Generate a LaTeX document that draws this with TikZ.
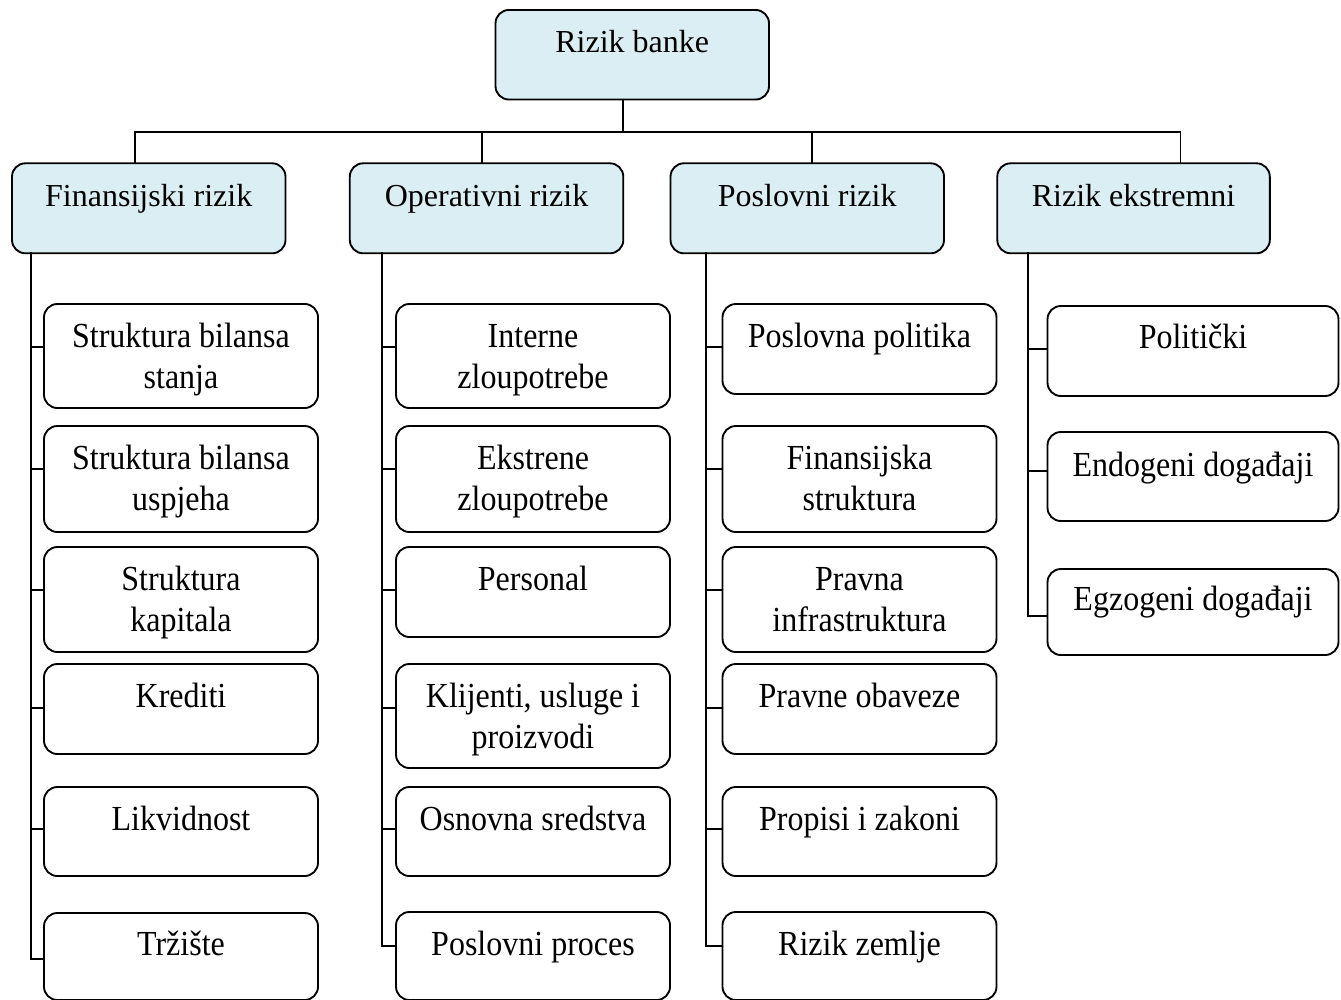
\documentclass[tikz,border=0pt]{standalone}
\usepackage{fontspec}
\usepackage{graphicx}
\setmainfont{Liberation Serif}
\usetikzlibrary{calc}

\definecolor{headfill}{RGB}{218,238,243}

% one drawing unit = one pixel of the 1341 x 999 canvas
\newlength\px
\setlength\px{0.75pt}

% text of a heading box: one line, baseline a fixed distance below the top
\newcommand\headtext[3]{%
  \parbox[c][#2\px][t]{#1\px}{\centering\rule{0pt}{43\px}#3}}
% text of a leaf box: one or two lines, slightly tall letters
\newcommand\leaftext[4][43]{%
  \parbox[c][#3\px][t]{#2\px}{\centering\rule{0pt}{#1\px}%
    \scalebox{1}[1.1]{\begin{tabular}[t]{@{}c@{}}#4\end{tabular}}}}

\tikzset{
  boxbase/.style={draw, line width=1.4pt, rounded corners=10pt,
    inner sep=0pt, outer sep=0pt, anchor=north west},
  head/.style={boxbase, fill=headfill},
  leaf/.style={boxbase, fill=white},
  link/.style={line width=1.4pt, line cap=rect},
}

\begin{document}
\fontsize{24}{28.6}\selectfont
\begin{tikzpicture}[x=0.75pt, y=-0.75pt]
\useasboundingbox (0,0) rectangle (1341,999);

% ---- root and the four risk groups ----
\node[head] (top) at (495.5,10)    {\headtext{273.5}{89.5}{Rizik banke}};
\node[head] (fin) at (12,163.3)    {\headtext{273.5}{90}{Finansijski rizik}};
\node[head] (op)  at (349.8,163.3) {\headtext{273.5}{90}{Operativni rizik}};
\node[head] (pos) at (670.5,163.3) {\headtext{273.5}{90}{Poslovni rizik}};
\node[head] (ext) at (997.3,163.3) {\headtext{272.5}{90}{Rizik ekstremni}};

% ---- Finansijski rizik ----
\node[leaf] (k11) at (44,304) {\leaftext{274}{104}{Struktura bilansa\\stanja}};
\node[leaf] (k12) at (44,426) {\leaftext{274}{106}{Struktura bilansa\\uspjeha}};
\node[leaf] (k13) at (44,547) {\leaftext{274}{105}{Struktura\\kapitala}};
\node[leaf] (k14) at (44,664) {\leaftext{274}{90}{Krediti}};
\node[leaf] (k15) at (44,787) {\leaftext{274}{89}{Likvidnost}};
\node[leaf] (k16) at (44,913) {\leaftext[42]{274}{87}{Tržište}};

% ---- Operativni rizik ----
\node[leaf] (k21) at (396,304) {\leaftext{274}{104}{Interne\\zloupotrebe}};
\node[leaf] (k22) at (396,426) {\leaftext{274}{106}{Ekstrene\\zloupotrebe}};
\node[leaf] (k23) at (396,547) {\leaftext{274}{90}{Personal}};
\node[leaf] (k24) at (396,664) {\leaftext{274}{104}{Klijenti, usluge i\\proizvodi}};
\node[leaf] (k25) at (396,787) {\leaftext{274}{89}{Osnovna sredstva}};
\node[leaf] (k26) at (396,912) {\leaftext{274}{88}{Poslovni proces}};

% ---- Poslovni rizik ----
\node[leaf] (k31) at (722.5,304) {\leaftext{274}{90}{Poslovna politika}};
\node[leaf] (k32) at (722.5,426) {\leaftext{274}{106}{Finansijska\\struktura}};
\node[leaf] (k33) at (722.5,547) {\leaftext{274}{105}{Pravna\\infrastruktura}};
\node[leaf] (k34) at (722.5,664) {\leaftext{274}{90}{Pravne obaveze}};
\node[leaf] (k35) at (722.5,787) {\leaftext{274}{89}{Propisi i zakoni}};
\node[leaf] (k36) at (722.5,912) {\leaftext{274}{88}{Rizik zemlje}};

% ---- Rizik ekstremni ----
\node[leaf] (k41) at (1047.5,306) {\leaftext[42]{291}{90}{Politički}};
\node[leaf] (k42) at (1047.5,432) {\leaftext[44]{291}{89}{Endogeni događaji}};
\node[leaf] (k43) at (1047.5,569) {\leaftext[41]{291}{86}{Egzogeni događaji}};

% ---- bus from the root to the groups ----
\coordinate (busL) at (135,132.3);
\coordinate (busR) at (1180.5,132.3);
\coordinate (topdrop) at ([shift={(-9,0)}]top.south);
\coordinate (opdrop)  at ([shift={(-4.5,0)}]op.north);
\coordinate (posdrop) at ([shift={(4.75,0)}]pos.north);
\draw[link] (busL) -- (busR);
\draw[link] (topdrop) -- (topdrop |- busL);
\draw[link] (fin.north -| busL) -- (busL);
\draw[link] (opdrop) -- (opdrop |- busL);
\draw[link] (posdrop) -- (posdrop |- busL);
\draw[link] (ext.north -| busR) -- (busR);

% ---- spines down the left of each group ----
\coordinate (s1) at (31,0);
\coordinate (s2) at (382,0);
\coordinate (s3) at (706,0);
\coordinate (s4) at (1028,0);

\draw[link] (fin.south -| s1) |- (k16.west |- 0,959);
\foreach \k/\y in {k11/347,k12/469,k13/590,k14/708,k15/829}
  \draw[link] (\k.west |- 0,\y) -- (s1 |- 0,\y);

\draw[link] (op.south -| s2) |- (k26.west |- 0,946);
\foreach \k/\y in {k21/347,k22/469,k23/590,k24/708,k25/829}
  \draw[link] (\k.west |- 0,\y) -- (s2 |- 0,\y);

\draw[link] (pos.south -| s3) |- (k36.west |- 0,946);
\foreach \k/\y in {k31/347,k32/469,k33/590,k34/708,k35/829}
  \draw[link] (\k.west |- 0,\y) -- (s3 |- 0,\y);

\draw[link] (ext.south -| s4) |- (k43.west |- 0,616);
\foreach \k/\y in {k41/349,k42/471}
  \draw[link] (\k.west |- 0,\y) -- (s4 |- 0,\y);
\end{tikzpicture}
\end{document}
